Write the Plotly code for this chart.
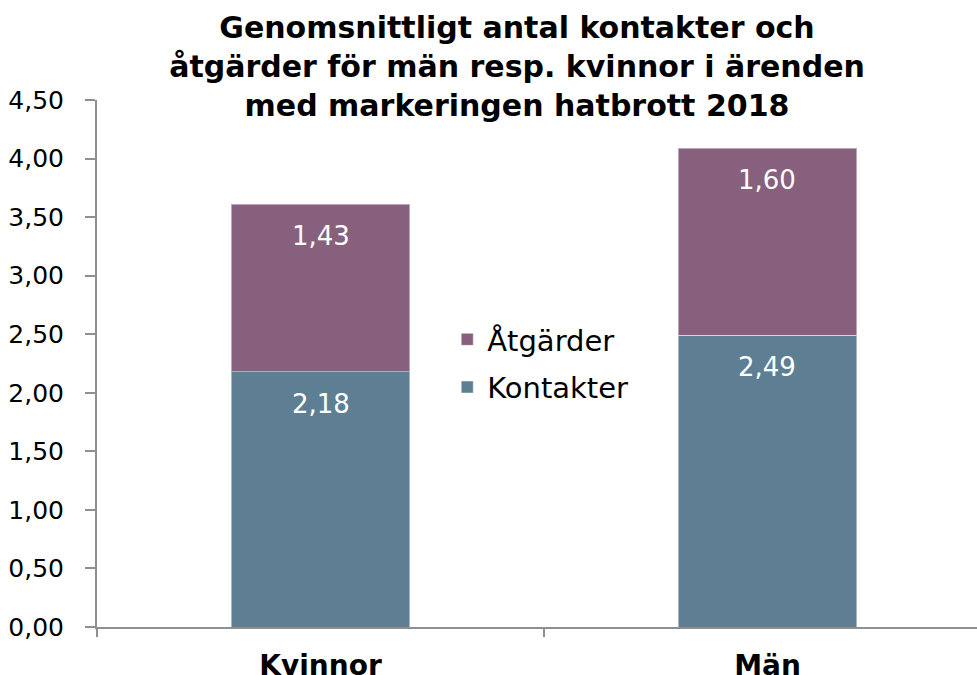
import plotly.graph_objects as go

categories = ["Kvinnor", "Män"]
kontakter = [2.18, 2.49]
atgarder = [1.43, 1.60]
series_names = ["Kontakter", "Åtgärder"]
y_ticks = [0, 0.5, 1.0, 1.5, 2.0, 2.5, 3.0, 3.5, 4.0, 4.5]
title_text = "Genomsnittligt antal kontakter och<br>åtgärder för män resp. kvinnor i ärenden<br>med markeringen hatbrott 2018"

COL_K = "#5e7f93"
COL_A = "#87607e"
FONT = "DejaVu Sans"

fig = go.Figure()
fig.add_trace(go.Bar(x=categories, y=kontakter, name=series_names[0], marker=dict(color=COL_K, line=dict(color="rgba(255,255,255,0.45)", width=1)),
                     width=0.4, legendgroup="k", legendrank=2, hoverinfo="skip"))
fig.add_trace(go.Bar(x=categories, y=atgarder, name=series_names[1], marker=dict(color=COL_A, line=dict(color="rgba(255,255,255,0.45)", width=1)),
                     width=0.4, legendgroup="a", legendrank=1, hoverinfo="skip"))

# value labels near top of each segment
for i, c in enumerate(categories):
    base = 0
    for vals in (kontakter, atgarder):
        top = base + vals[i]
        fig.add_annotation(x=c, y=top, text=f"{vals[i]:.2f}".replace(".", ","), showarrow=False,
                           yanchor="middle", yshift=-32, font=dict(family=FONT, size=26, color="white"))
        base = top

fig.update_layout(
    barmode="stack",
    width=977, height=675,
    margin=dict(l=97, r=0, t=100, b=48, autoexpand=False),
    paper_bgcolor="white", plot_bgcolor="white",
    separators=",.",
    font=dict(family=FONT, color="black"),
    title=dict(text=title_text, x=517/977, xanchor="center", xref="container",
               y=0.943, yanchor="top", yref="container", automargin=False,
               font=dict(family=FONT, size=30, color="black", weight="bold")),
    legend=dict(x=0.398, xanchor="left", y=0.5, yanchor="middle",
                traceorder="grouped", tracegroupgap=7,
                font=dict(family=FONT, size=29, color="black"), bgcolor="rgba(0,0,0,0)"),
    showlegend=True,
)
fig.update_yaxes(range=[0, 4.5], tickvals=y_ticks, tickformat=".2f", showgrid=False, zeroline=False,
                 showline=True, linecolor="#8f8f8f", linewidth=2, ticks="outside", ticklen=10,
                 tickcolor="#8f8f8f", tickwidth=2, ticklabelstandoff=16, automargin=False,
                 tickfont=dict(family=FONT, size=25, color="black"))
fig.update_xaxes(range=[-0.5, 1.4687], showgrid=False, zeroline=False, showline=True, linecolor="#8f8f8f",
                 linewidth=2, ticks="outside", tickson="boundaries", ticklen=8, tickcolor="#8f8f8f",
                 tickwidth=2, ticklabelstandoff=12, automargin=False,
                 tickfont=dict(family=FONT, size=28, color="black", weight="bold"))

fig.write_html("out.html", config={"displayModeBar": False},
               post_script="document.body.style.margin='0';document.body.style.overflow='hidden';")
